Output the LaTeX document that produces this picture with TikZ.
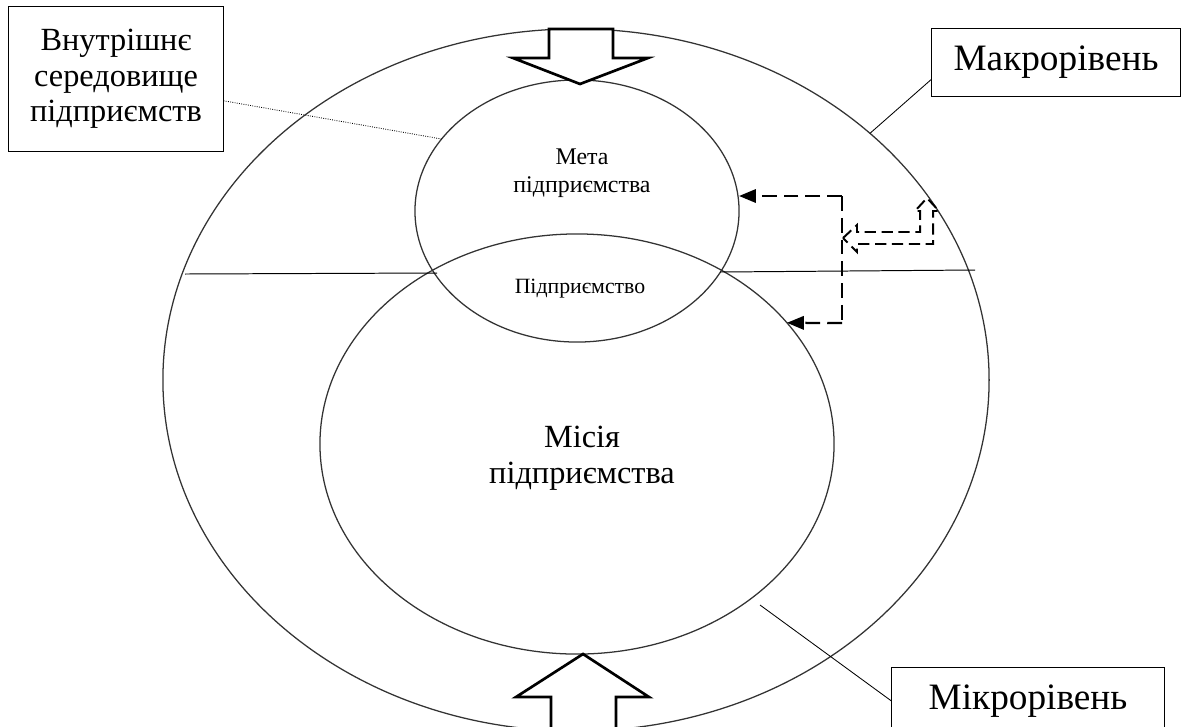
\documentclass[tikz,border=0pt]{standalone}
\usepackage{fontspec}
\setmainfont{Liberation Serif}
\usetikzlibrary{shapes.geometric,arrows.meta,calc}
\tikzset{
  ring/.style={draw=black!80,line width=0.9pt,ellipse,inner sep=0pt,outer sep=0pt},
  labelbox/.style={draw,line width=0.7pt,align=center,inner sep=0pt,font=\fontsize{26.5}{30}\selectfont},
  bigtext/.style={align=center,font=\fontsize{23}{25.6}\selectfont},
  smalltext/.style={align=center,font=\fontsize{17}{20}\selectfont},
  blockarrow/.style={draw,fill=white,line width=1.9pt,line join=miter},
  dashlink/.style={line width=1.6pt,dash pattern=on 10.5pt off 5pt},
  tiparrow/.style={-{Triangle[length=12pt,width=9.5pt]}},
}
\begin{document}
\begin{tikzpicture}[x=0.025cm,y=-0.025cm,line cap=butt]
\path[use as bounding box] (0,0) rectangle (1181,726);
\clip (0,0) rectangle (1181,726);
% Levels: outer ring, mission, goal.
\node[ring,minimum width=20.65cm,minimum height=17.55cm] (outer) at (576,380) {};
\node[ring,minimum width=12.85cm,minimum height=10.5cm] (mission) at (577,444) {};
\node[ring,minimum width=8.1cm,minimum height=6.55cm] (goal) at (577,211) {};
% Dividing line, cut at the lens.
\coordinate (cut-a) at (185,274);
\coordinate (cut-b) at (437,273);
\coordinate (cut-c) at (720,272);
\coordinate (cut-d) at (975,270);
\draw[line width=0.7pt] (cut-a) -- (cut-b);
\draw[line width=0.7pt] (cut-c) -- (cut-d);
% Texts inside the ellipses.
\node[smalltext] (goal-txt) at (582,173) {Мета\\підприємства};
\node[font=\fontsize{15.5}{18}\selectfont,anchor=base] (firm-txt) at (580,293) {Підприємство};
\node[bigtext] (mission-txt) at (582,458) {Місія\\підприємства};
% Callout boxes.
\node[labelbox,font=\fontsize{23}{25.2}\selectfont,minimum width=5.35cm,minimum height=3.6cm] (inner) at (116,79) {Внутрішнє\\середовище\\підприємств};
\node[labelbox,minimum width=6.2cm,minimum height=1.7cm] (macro) at (1056,62) {Макрорівень};
\node[labelbox,minimum width=6.8cm,minimum height=1.7cm] (micro) at (1028,701) {Мікрорівень};
\coordinate (micro-end) at (760,605);
\draw[densely dotted,line width=0.6pt] ($(inner.east)!0.3!(inner.south east)$) -- (goal.152);
\draw[line width=0.6pt] ($(macro.west)!0.5!(macro.south west)$) -- (outer.40);
\draw[line width=0.6pt] (micro.west) -- (micro-end);
% Block arrows, top and bottom.
\draw[blockarrow] (549,29) -- (613,29) -- (613,58) -- (648,58) -- (580,84) -- (513,58) -- (549,58) -- cycle;
\draw[blockarrow] (551,740) -- (551,697) -- (516,697) -- (583,654) -- (649,697) -- (616,697) -- (616,740);
% Dashed feedback.
\coordinate (dash-top) at (842,196);
\coordinate (dash-bot) at (842,323);
\draw[dashlink] (dash-top) -- (dash-bot);
\draw[dashlink,tiparrow] (dash-top) -- (goal.east |- dash-top);
\draw[dashlink,tiparrow] (dash-bot) -- (mission.30);
\draw[dashlink,line width=1.4pt,dash pattern=on 8pt off 4pt,line join=miter]
  (843,238) -- (857,225) -- (857,232) -- (920,232) -- (920,211) -- (915,211) -- (927,198)
  -- (939,211) -- (933,211) -- (933,244) -- (857,244) -- (857,252) -- cycle;
\end{tikzpicture}
\end{document}
